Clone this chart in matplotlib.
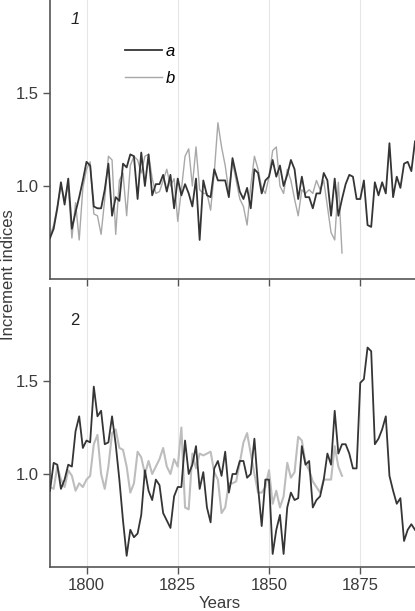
import numpy as np
import matplotlib
matplotlib.use("Agg")
import matplotlib.pyplot as plt

plt.rcParams['font.family'] = ['Liberation Sans', 'DejaVu Sans']

years_a = list(range(1790, 1891))
years_b = list(range(1790, 1871))

# Panel 1
p1_a = [0.72, 0.77, 0.88, 1.02, 0.90, 1.04, 0.77, 0.86, 0.94, 1.03,
        1.13, 1.11, 0.89, 0.88, 0.88, 0.98, 1.12, 0.84, 0.94, 0.92,
        1.12, 1.10, 1.17, 1.16, 0.93, 1.18, 1.00, 1.17, 0.95, 1.01,
        1.01, 1.06, 0.97, 1.06, 0.88, 1.04, 0.95, 1.01, 0.96, 0.89,
        1.04, 0.71, 1.03, 0.95, 0.94, 1.09, 1.03, 1.03, 1.03, 0.94,
        1.15, 1.06, 0.97, 0.93, 0.99, 0.88, 1.09, 1.07, 0.96, 1.03,
        1.05, 1.14, 1.05, 1.11, 1.00, 1.06, 1.14, 1.09, 0.93, 1.05,
        0.94, 0.94, 0.88, 0.96, 0.96, 1.07, 1.03, 0.84, 1.04, 0.84,
        0.93, 1.01, 1.06, 1.05, 0.93, 0.93, 1.03, 0.79, 0.78, 1.02,
        0.95, 1.02, 0.96, 1.23, 0.94, 1.05, 0.99, 1.12, 1.13, 1.08,
        1.24]
p1_b = [0.73, 0.79, 0.89, 1.00, 0.93, 1.00, 0.72, 0.91, 0.71, 0.99,
        1.09, 1.13, 0.85, 0.84, 0.74, 0.93, 1.16, 1.14, 0.74, 1.03,
        1.07, 0.84, 1.11, 1.16, 1.14, 1.07, 1.16, 1.17, 1.04, 0.96,
        0.97, 1.03, 1.09, 1.00, 1.04, 0.81, 0.98, 1.16, 1.20, 1.00,
        1.21, 0.98, 0.96, 0.96, 0.87, 1.07, 1.34, 1.21, 1.11, 0.97,
        1.13, 1.03, 0.93, 0.89, 0.79, 1.00, 1.16, 1.09, 0.99, 0.96,
        1.05, 1.19, 1.21, 1.00, 0.96, 1.09, 1.03, 0.93, 0.84, 0.98,
        0.96, 0.98, 0.96, 1.03, 0.98, 1.03, 0.89, 0.75, 0.71, 1.02,
        0.64]

# Panel 2
p2_a = [0.91, 1.06, 1.05, 0.92, 0.97, 1.05, 1.04, 1.23, 1.31, 1.14,
        1.18, 1.17, 1.47, 1.31, 1.34, 1.16, 1.17, 1.31, 1.16, 0.97,
        0.75, 0.56, 0.70, 0.66, 0.68, 0.78, 1.02, 0.91, 0.86, 0.97,
        0.94, 0.79, 0.75, 0.71, 0.88, 0.93, 0.93, 1.18, 1.00, 1.05,
        1.15, 0.92, 1.01, 0.82, 0.74, 1.03, 1.07, 0.99, 1.12, 0.90,
        1.00, 1.00, 1.07, 1.07, 0.98, 1.00, 1.19, 0.93, 0.72, 0.97,
        0.97, 0.57, 0.70, 0.78, 0.57, 0.82, 0.90, 0.86, 0.87, 1.15,
        1.05, 1.07, 0.82, 0.86, 0.88, 0.97, 1.11, 1.05, 1.34, 1.11,
        1.16, 1.16, 1.11, 1.03, 1.03, 1.49, 1.51, 1.68, 1.66, 1.16,
        1.19, 1.24, 1.31, 0.99, 0.91, 0.84, 0.87, 0.64, 0.70, 0.73,
        0.70]
p2_b = [0.93, 0.92, 1.04, 0.97, 0.93, 1.02, 0.99, 0.91, 0.95, 0.93,
        0.97, 0.99, 1.16, 1.21, 1.00, 0.92, 1.04, 1.22, 1.24, 1.14,
        1.13, 1.04, 0.90, 0.95, 1.12, 1.09, 1.00, 1.07, 1.00, 1.04,
        1.08, 1.14, 1.04, 1.00, 1.08, 1.04, 1.25, 0.82, 0.81, 1.11,
        1.03, 1.11, 1.10, 1.11, 1.12, 1.01, 0.97, 0.79, 0.82, 0.95,
        0.95, 0.96, 1.06, 1.17, 1.22, 1.11, 1.00, 0.90, 0.90, 0.93,
        1.02, 0.84, 0.91, 0.82, 0.88, 1.06, 0.98, 1.01, 1.20, 1.18,
        1.06, 1.02, 0.96, 0.93, 0.90, 0.97, 0.97, 0.97, 1.15, 1.04,
        0.99]

series_labels = ['a', 'b']
panel_labels = ['1', '2']
xticks = [1800, 1825, 1850, 1875]
yticks = [1.0, 1.5]

W, H = 415, 611
fig = plt.figure(figsize=(W / 100, H / 100), dpi=100)

def frac_rect(x0, y0, x1, y1):
    return [x0 / W, 1 - y1 / H, (x1 - x0) / W, (y1 - y0) / H]

ax1 = fig.add_axes(frac_rect(50, 0, 415, 279))
ax2 = fig.add_axes(frac_rect(50, 288, 415, 567))

dark = '#353535'
axis_col = '#555555'
txt_col = '#3a3a3a'

for ax, ya, yb, lw_b, col_b in [(ax1, p1_a, p1_b, 1.0, '#a8a8a8'),
                                 (ax2, p2_a, p2_b, 1.5, '#bdbdbd')]:
    for xv in xticks:
        ax.axvline(xv, color='#e6e6e6', lw=0.8, zorder=0)
    ax.plot(years_b, yb, color=col_b, lw=lw_b, label=series_labels[1], zorder=2)
    ax.plot(years_a, ya, color=dark, lw=1.3, label=series_labels[0], zorder=3)
    ax.set_xlim(1790, 1890)
    ax.set_ylim(0.5, 2.0)
    ax.set_xticks(xticks)
    ax.set_yticks(yticks)
    ax.set_yticklabels([f"{v:.1f}" for v in yticks])
    for s in ['top', 'right']:
        ax.spines[s].set_visible(False)
    for s in ['left', 'bottom']:
        ax.spines[s].set_color(axis_col)
        ax.spines[s].set_linewidth(1.2)
    ax.tick_params(axis='both', direction='out', length=5, width=1.0,
                   color=axis_col, labelsize=12, labelcolor=txt_col, pad=3)

ax1.tick_params(axis='x', labelbottom=False)

h, l = ax1.get_legend_handles_labels()
order = [1, 0]
leg = ax1.legend([h[i] for i in order], [l[i] for i in order],
                 loc='upper left', bbox_to_anchor=(0.165, 0.895),
                 frameon=False, handlelength=2.2, handletextpad=0.25,
                 labelspacing=0.7,
                 prop={'style': 'italic', 'size': 12})

ax1.text(0.055, 0.93, panel_labels[0], transform=ax1.transAxes,
         fontsize=12, style='italic', color='#222222', va='center')
ax2.text(0.055, 0.885, panel_labels[1], transform=ax2.transAxes,
         fontsize=12, color='#222222', va='center')

fig.text(9 / W, 1 - 275 / H, 'Increment indices', rotation=90,
         ha='center', va='center', fontsize=12, color=txt_col)
fig.text(220 / W, 1 - 603 / H, 'Years', ha='center', va='center',
         fontsize=12, color=txt_col)

fig.savefig('out.png', dpi=100)
